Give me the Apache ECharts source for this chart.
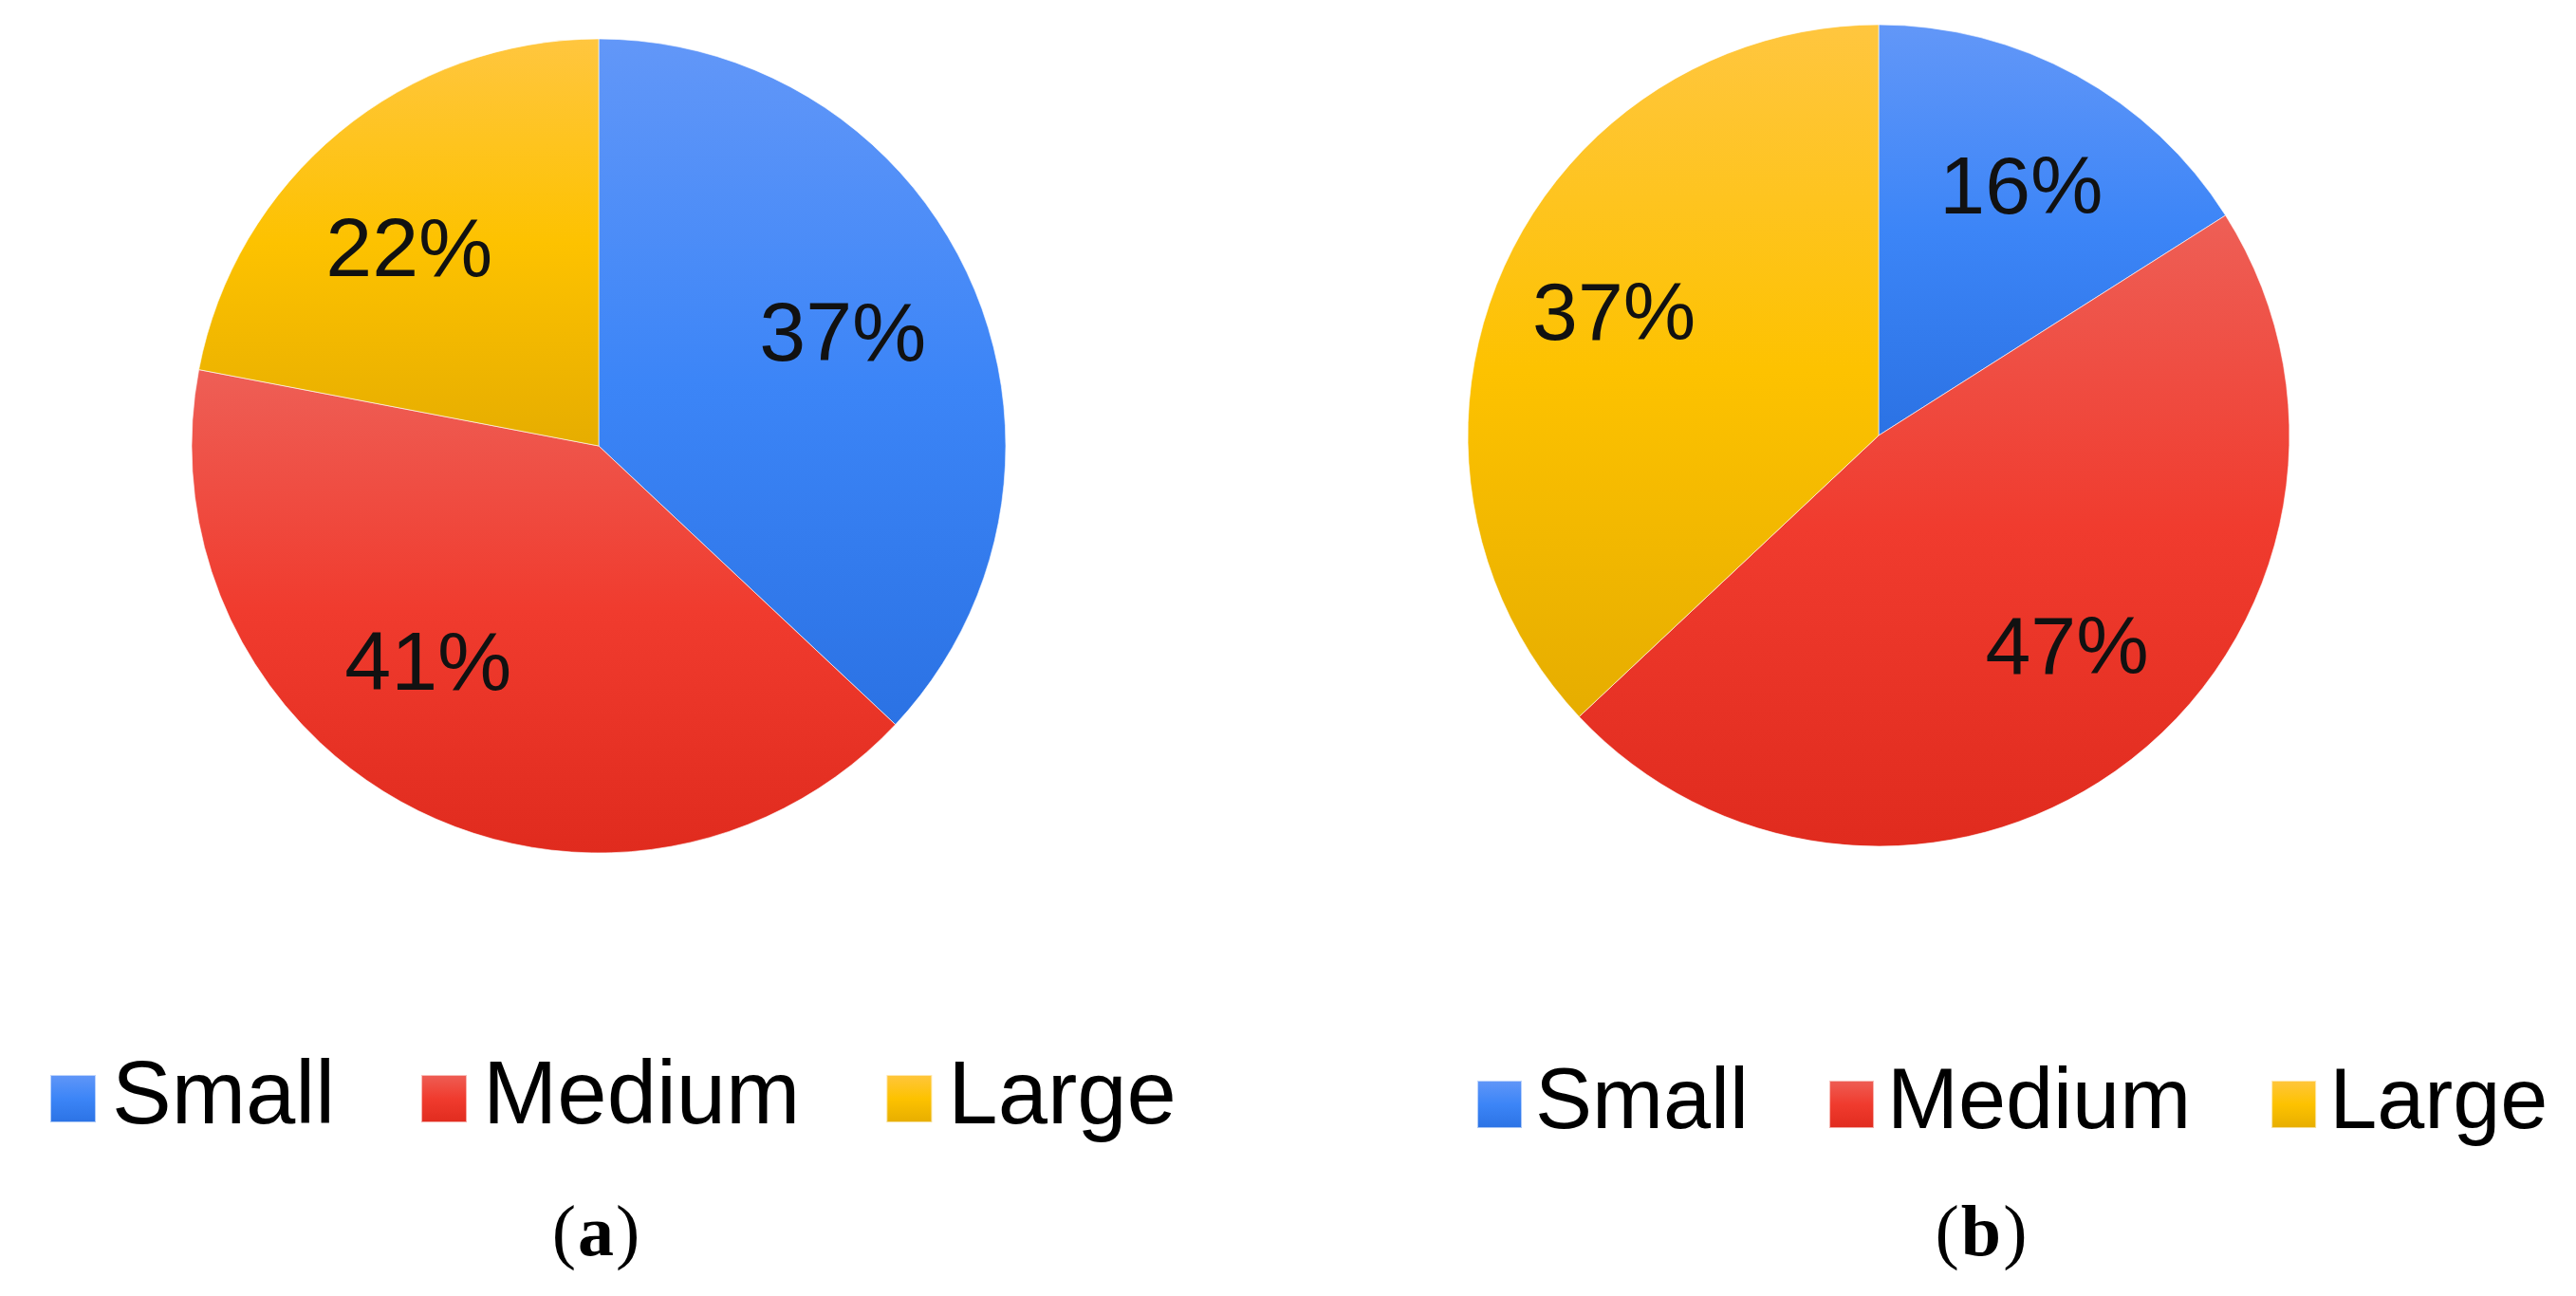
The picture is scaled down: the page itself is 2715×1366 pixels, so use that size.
<!DOCTYPE html>
<html>
<head>
<meta charset="utf-8">
<script src="https://cdn.jsdelivr.net/npm/echarts@6/dist/echarts.min.js"></script>
<style>html,body{margin:0;padding:0;background:#fff;}#c{width:2715px;height:1366px;}</style>
</head>
<body>
<div id="c"></div>
<script>
const categories = ['Small', 'Medium', 'Large'];
const valuesA = [37, 41, 22];
const valuesB = [16, 47, 37];
const captions = ['(a)', '(b)'];

const gradStops = [
  ['#6297f8', '#3c85f7', '#2b72e4'],
  ['#ee5f56', '#f03b2e', '#e02b1e'],
  ['#ffc63f', '#fdc200', '#e6ad00']
];
// fine label nudges (style only, in px)
const labelNudgeA = [[-13, 3], [-46, -30], [-12, 24]];
const labelNudgeB = [[3, 10], [11, -15], [2, -3]];

function grad(i) {
  const s = gradStops[i];
  return new echarts.graphic.LinearGradient(0, 0, 0, 1, [
    {offset: 0, color: s[0]}, {offset: 0.5, color: s[1]}, {offset: 1, color: s[2]}
  ]);
}
function mainData(vals) {
  return categories.map((n, i) => ({name: n, value: vals[i], itemStyle: {color: grad(i)}}));
}
function labelData(vals) {
  return categories.map((n, i) => ({name: n, value: vals[i]}));
}
function labelStyle(size) {
  return {
    show: true, position: 'inside', formatter: '{d}%',
    fontSize: size, fontFamily: 'Liberation Sans, Arial, sans-serif', color: '#111'
  };
}
function caption(t) {
  const letter = t.replace(/[()]/g, '');
  return '{p|(}{b|' + letter + '}{p|)}';
}
const capRich = {
  p: {font: '76px "Liberation Serif", "Times New Roman", serif', fill: '#000'},
  b: {font: 'bold 76px "Liberation Serif", "Times New Roman", serif', fill: '#000', padding: [0, 2]}
};

const chart = echarts.init(document.getElementById('c'), null, {renderer: 'canvas'});
const rA = 429, rB = 433;
chart.setOption({
  animation: false,
  backgroundColor: '#ffffff',
  legend: [
    {
      data: categories, left: 47, top: 1106, orient: 'horizontal',
      itemWidth: 48, itemHeight: 50, itemGap: 90, icon: 'rect', selectedMode: false,
      textStyle: {fontSize: 94, fontFamily: 'Liberation Sans, Arial, sans-serif', color: '#000', padding: [0, 0, 0, 12]}
    },
    {
      data: categories, left: 1551, top: 1114, orient: 'horizontal',
      itemWidth: 47, itemHeight: 50, itemGap: 84, icon: 'rect', selectedMode: false,
      textStyle: {fontSize: 90, fontFamily: 'Liberation Sans, Arial, sans-serif', color: '#000', padding: [0, 0, 0, 9]}
    }
  ],
  series: [
    {
      type: 'pie', center: [631, 470], radius: [0, rA], startAngle: 90, clockwise: true,
      label: {show: false}, labelLine: {show: false}, silent: true,
      itemStyle: {borderWidth: 1, borderColor: 'rgba(255,255,255,0.6)'},
      emphasis: {disabled: true},
      data: mainData(valuesA)
    },
    {
      type: 'pie', center: [1980, 459], radius: [0, rB], startAngle: 90, clockwise: true,
      label: {show: false}, labelLine: {show: false}, silent: true,
      itemStyle: {borderWidth: 1, borderColor: 'rgba(255,255,255,0.6)'},
      emphasis: {disabled: true},
      data: mainData(valuesB)
    },
    {
      type: 'pie', center: [631, 470], radius: [Math.round(rA * 0.36), rA], startAngle: 90, clockwise: true,
      label: labelStyle(88), labelLine: {show: false}, silent: true,
      itemStyle: {color: 'rgba(0,0,0,0)', borderWidth: 0},
      emphasis: {disabled: true},
      labelLayout: function (p) { const o = labelNudgeA[p.dataIndex]; return {dx: o[0], dy: o[1]}; },
      data: labelData(valuesA)
    },
    {
      type: 'pie', center: [1980, 459], radius: [Math.round(rB * 0.40), rB], startAngle: 90, clockwise: true,
      label: labelStyle(86), labelLine: {show: false}, silent: true,
      itemStyle: {color: 'rgba(0,0,0,0)', borderWidth: 0},
      emphasis: {disabled: true},
      labelLayout: function (p) { const o = labelNudgeB[p.dataIndex]; return {dx: o[0], dy: o[1]}; },
      data: labelData(valuesB)
    }
  ],
  graphic: [
    {type: 'text', x: 628, y: 1303, style: {text: caption(captions[0]), rich: capRich, textAlign: 'center', textVerticalAlign: 'middle', font: '76px "Liberation Serif", serif', fill: '#000'}},
    {type: 'text', x: 2088, y: 1303, style: {text: caption(captions[1]), rich: capRich, textAlign: 'center', textVerticalAlign: 'middle', font: '76px "Liberation Serif", serif', fill: '#000'}}
  ]
});
</script>
</body>
</html>
